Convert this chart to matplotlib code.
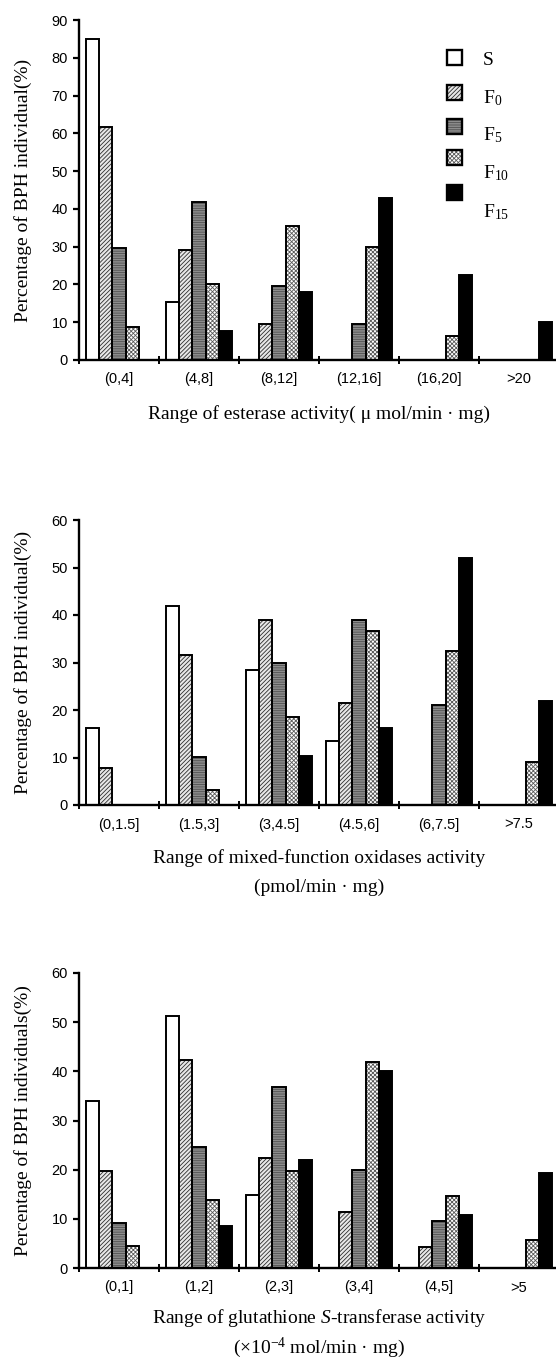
import matplotlib
matplotlib.use("Agg")
import matplotlib.pyplot as plt
from matplotlib.patches import Rectangle
import numpy as np

plt.rcParams["mathtext.fontset"] = "custom"
plt.rcParams["mathtext.rm"] = "Liberation Serif"
plt.rcParams["mathtext.it"] = "Liberation Serif:italic"
plt.rcParams["hatch.linewidth"] = 0.6

series = ["S", "F0", "F5", "F10", "F15"]
series_labels = ["S", r"F$_{0}$", r"F$_{5}$", r"F$_{10}$", r"F$_{15}$"]

# esterase activity
est_cats = ["(0,4]", "(4,8]", "(8,12]", "(12,16]", "(16,20]", ">20"]
est_S = [85.0, 15.3, 0, 0, 0, 0]
est_F0 = [61.7, 29.1, 9.4, 0, 0, 0]
est_F5 = [29.6, 41.9, 19.6, 9.4, 0, 0]
est_F10 = [8.7, 20.0, 35.6, 29.8, 6.4, 0]
est_F15 = [0, 7.7, 17.9, 43.0, 22.5, 10.0]

# mixed-function oxidases activity
mfo_cats = ["(0,1.5]", "(1.5,3]", "(3,4.5]", "(4.5,6]", "(6,7.5]", ">7.5"]
mfo_S = [16.2, 41.9, 28.5, 13.4, 0, 0]
mfo_F0 = [7.8, 31.6, 38.9, 21.4, 0, 0]
mfo_F5 = [0, 10.2, 29.9, 38.9, 21.0, 0]
mfo_F10 = [0, 3.1, 18.6, 36.6, 32.4, 9.0]
mfo_F15 = [0, 0, 10.3, 16.2, 52.0, 21.9]

# glutathione S-transferase activity
gst_cats = ["(0,1]", "(1,2]", "(2,3]", "(3,4]", "(4,5]", ">5"]
gst_S = [33.9, 51.2, 14.9, 0, 0, 0]
gst_F0 = [19.8, 42.3, 22.3, 11.3, 4.2, 0]
gst_F5 = [9.1, 24.7, 36.9, 19.9, 9.6, 0]
gst_F10 = [4.5, 13.8, 19.7, 41.8, 14.6, 5.6]
gst_F15 = [0, 8.5, 21.9, 40.0, 10.7, 19.3]

styles = {
    "S": dict(face="white", hatch=None, hcol="white"),
    "F0": dict(face="#e8e8e8", hatch="////////", hcol="#2e2e2e"),
    "F5": dict(face="#8c8c8c", hatch="-------", hcol="#505050"),
    "F10": dict(face="white", hatch="xxxxxxxx", hcol="#5a5a5a"),
    "F15": dict(face="black", hatch=None, hcol="black"),
}

W, H = 556, 1369
fig = plt.figure(figsize=(W / 100, H / 100), dpi=100)

serif = "Liberation Serif"
sans = "Liberation Sans"


def add_axes(top, bottom):
    return fig.add_axes([79 / W, 1 - bottom / H, 480 / W, (bottom - top) / H])


def draw_bars(ax, x, h, key, width):
    st = styles[key]
    ax.bar(x, h, width, color=st["face"], edgecolor=st["hcol"], hatch=st["hatch"],
           linewidth=0, zorder=2)
    ax.bar(x, h, width, facecolor="none", edgecolor="black", linewidth=1.4, zorder=3)


def panel(ax, cats, data, ymax, ylabel, xlabel_lines, baselines):
    n = len(cats)
    x = np.arange(n)
    width = 0.165
    for i, (key, vals) in enumerate(zip(series, data)):
        draw_bars(ax, x + (i - 2) * width, vals, key, width)
    ax.set_xlim(-0.5, n - 0.5)
    ax.set_ylim(0, ymax)
    ax.set_yticks(np.arange(0, ymax + 1, 10))
    ax.set_xticks(np.arange(n + 1) - 0.5)
    ax.set_xticklabels([])
    ax.set_xticks(x, minor=True)
    ax.set_xticklabels(cats, minor=True, family=sans, fontsize=10.5)
    for lab in ax.get_yticklabels():
        lab.set_fontfamily(sans)
        lab.set_fontsize(10.5)
    ax.tick_params(axis="x", which="major", direction="inout", length=6, width=1.4)
    ax.tick_params(axis="x", which="minor", length=0, pad=9)
    ax.tick_params(axis="y", direction="out", length=4, width=1.6, pad=4)
    for s in ["top", "right"]:
        ax.spines[s].set_visible(False)
    for s in ["left", "bottom"]:
        ax.spines[s].set_linewidth(1.7)
    ax.set_ylabel(ylabel, family=serif, fontsize=14)
    ax.yaxis.label.set_va("center")
    ax.yaxis.set_label_coords((23 - 79) / 480, 0.5)
    cx = (79 + 559) / 2 / W
    for line, yb in zip(xlabel_lines, baselines):
        fig.text(cx, 1 - yb / H, line, ha="center", va="baseline",
                 family=serif, fontsize=14)


ax1 = add_axes(20, 360)
panel(ax1, est_cats, [est_S, est_F0, est_F5, est_F10, est_F15], 90,
      "Percentage of BPH individual(%)",
      ["Range of esterase activity( \u03bc mol/min \u00b7 mg)"], [419])

ax2 = add_axes(520, 805)
panel(ax2, mfo_cats, [mfo_S, mfo_F0, mfo_F5, mfo_F10, mfo_F15], 60,
      "Percentage of BPH individual(%)",
      ["Range of mixed-function oxidases activity", "(pmol/min \u00b7 mg)"], [863, 892])

ax3 = add_axes(973, 1268)
panel(ax3, gst_cats, [gst_S, gst_F0, gst_F5, gst_F10, gst_F15], 60,
      "Percentage of BPH individuals(%)",
      ["Range of glutathione $\\mathit{S}$-transferase activity",
       "(\u00d710$^{-4}$ mol/min \u00b7 mg)"], [1323, 1353])

# legend drawn by hand (squares with labels slightly below them)
sq_y = [0.891, 0.788, 0.688, 0.597, 0.494]
txt_y = [0.882, 0.771, 0.662, 0.55, 0.435]
for key, lab, sy, ty in zip(series, series_labels, sq_y, txt_y):
    st = styles[key]
    ax1.add_patch(Rectangle((0.767, sy - 0.022), 0.031, 0.044, transform=ax1.transAxes,
                            facecolor=st["face"], edgecolor=st["hcol"], hatch=st["hatch"],
                            linewidth=0, clip_on=False, zorder=4))
    ax1.add_patch(Rectangle((0.767, sy - 0.022), 0.031, 0.044, transform=ax1.transAxes,
                            facecolor="none", edgecolor="black", linewidth=1.7,
                            clip_on=False, zorder=5))
    ax1.text(0.842, ty, lab, transform=ax1.transAxes, family=serif, fontsize=14,
             va="center", ha="left")

fig.savefig("out.png", dpi=100)
